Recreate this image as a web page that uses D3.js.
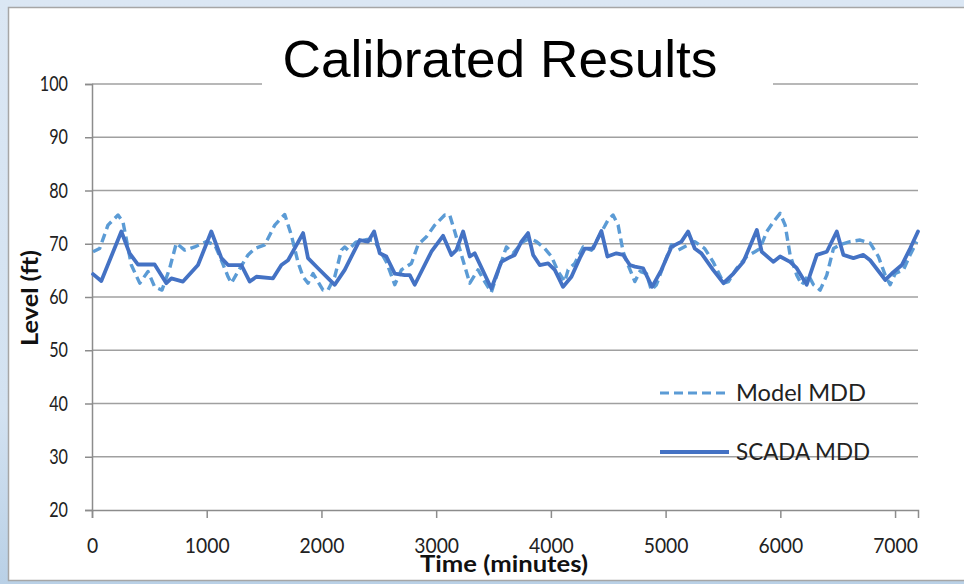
<!DOCTYPE html>
<html>
<head>
<meta charset="utf-8">
<script src="https://cdn.jsdelivr.net/npm/d3@7/dist/d3.min.js"></script>
<style>
  html, body { margin: 0; padding: 0; background: #dce8f4; }
  svg { display: block; }
</style>
</head>
<body>
<svg id="chart" width="964" height="584"></svg>
<script>
// Time axis (minutes) and level axis (ft)
const xTicks = [0, 1000, 2000, 3000, 4000, 5000, 6000, 7000];
const yTicks = [20, 30, 40, 50, 60, 70, 80, 90, 100];

// Model MDD series
const modelTime = [9, 67, 139, 227, 270, 343, 416, 488, 546, 610, 677, 735, 808, 895, 997, 1070, 1128, 1186, 1215,
  1273, 1360, 1418, 1506, 1593, 1680, 1738, 1796, 1840, 1883, 1927, 2014, 2057, 2116, 2174, 2203, 2232, 2300, 2400,
  2460, 2508, 2566, 2639, 2697, 2784, 2842, 2915, 2988, 3075, 3118, 3162, 3220, 3293, 3365, 3423, 3481, 3540, 3612,
  3670, 3758, 3816, 3874, 3947, 4005, 4063, 4121, 4150, 4208, 4281, 4353, 4426, 4499, 4542, 4586, 4630, 4673, 4732,
  4775, 4833, 4876, 4920, 4993, 5051, 5109, 5196, 5254, 5341, 5414, 5472, 5504, 5548, 5620, 5707, 5779, 5823, 5882,
  5940, 5998, 6042, 6085, 6143, 6187, 6245, 6289, 6347, 6405, 6463, 6521, 6608, 6695, 6783, 6855, 6914, 6957, 7001,
  7073, 7131, 7189];
const modelLevel = [68.5, 69.1, 73.5, 75.4, 74.1, 66.0, 62.6, 64.8, 61.9, 61.3, 65.4, 70.1, 68.8, 69.4, 70.4, 69.8, 66.9, 63.8, 62.6,
  64.8, 67.9, 69.1, 69.8, 73.5, 75.5, 71.6, 66.5, 63.8, 62.6, 64.4, 61.3, 61.3, 63.8, 68.8, 69.4, 68.8, 70.3, 70.8,
  70.6, 68.8, 66.6, 62.3, 65.1, 66.3, 69.8, 71.3, 73.5, 75.4, 75.4, 72.3, 67.9, 62.6, 65.1, 62.9, 60.9, 64.8, 69.4,
  68.2, 70.4, 71.0, 70.4, 69.1, 67.6, 64.8, 62.9, 65.1, 66.3, 69.4, 68.8, 71.6, 74.5, 75.4, 73.5, 68.5, 66.0, 62.9,
  64.8, 64.4, 61.3, 62.3, 66.6, 69.8, 68.8, 69.8, 70.4, 69.1, 66.6, 64.1, 62.6, 62.9, 65.4, 67.6, 68.5, 69.1, 72.3,
  74.1, 75.7, 73.5, 67.9, 64.1, 62.3, 64.1, 62.3, 61.3, 64.1, 69.1, 69.8, 70.4, 70.7, 70.1, 67.6, 64.1, 62.3, 64.4,
  65.1, 67.9, 70.4];

// SCADA MDD series
const scadaTime = [9, 81, 256, 328, 401, 546, 648, 692, 793, 924, 1040, 1128, 1186, 1302, 1375, 1433, 1578, 1651, 1709,
  1840, 1883, 1970, 2072, 2116, 2203, 2334, 2406, 2459, 2508, 2566, 2639, 2726, 2770, 2813, 2958, 3060, 3133, 3176,
  3235, 3293, 3336, 3481, 3568, 3627, 3685, 3743, 3801, 3845, 3903, 3976, 4034, 4106, 4179, 4252, 4295, 4368, 4440,
  4493, 4571, 4630, 4688, 4732, 4804, 4882, 4964, 5051, 5138, 5196, 5254, 5312, 5414, 5504, 5591, 5678, 5795, 5838,
  5940, 5998, 6085, 6143, 6230, 6318, 6405, 6492, 6550, 6637, 6724, 6783, 6914, 6972, 7059, 7131, 7200];
const scadaLevel = [64.3, 63.0, 72.3, 68.2, 66.1, 66.1, 62.6, 63.5, 62.9, 66.0, 72.3, 67.3, 66.0, 66.0, 62.9, 63.8, 63.5, 66.0, 66.9,
  72.0, 67.3, 65.4, 63.2, 62.3, 65.1, 70.7, 70.4, 72.3, 68.2, 67.6, 64.4, 64.1, 64.1, 62.3, 68.5, 71.5, 67.9, 68.8,
  72.3, 67.6, 68.2, 61.6, 66.6, 67.3, 67.9, 70.4, 72.0, 67.9, 66.0, 66.3, 65.1, 61.9, 63.8, 67.3, 69.1, 69.1, 72.4,
  67.6, 68.2, 67.9, 66.0, 65.7, 65.4, 61.9, 65.1, 69.4, 70.4, 72.3, 69.1, 68.2, 65.1, 62.6, 64.4, 66.6, 72.6, 68.5,
  66.6, 67.6, 66.6, 65.4, 62.3, 67.9, 68.5, 72.3, 67.9, 67.3, 67.9, 66.9, 63.2, 64.4, 66.0, 69.1, 72.3];

const seriesNames = ["Model MDD", "SCADA MDD"];

const svg = d3.select("#chart");
const W = 964, H = 584;

// slide backdrop and chart panel
const defs = svg.append("defs");
const grad = defs.append("linearGradient").attr("id", "edge").attr("x1", 0).attr("y1", 0).attr("x2", 0).attr("y2", 1);
grad.append("stop").attr("offset", "0%").attr("stop-color", "#dbe7f4");
grad.append("stop").attr("offset", "70%").attr("stop-color", "#d3e2f1");
grad.append("stop").attr("offset", "100%").attr("stop-color", "#b9d0e6");
svg.append("rect").attr("width", W).attr("height", H).attr("fill", "url(#edge)");
svg.append("rect").attr("x", 8.5).attr("y", 7.5).attr("width", W).attr("height", 573)
  .attr("fill", "#ffffff").attr("stroke", "#a6a6a6").attr("stroke-width", 1.5);

const x = d3.scaleLinear().domain([0, 7200]).range([92, 918]);
const y = d3.scaleLinear().domain([20, 100]).range([510, 84]);

const tickFont = "Lato, 'Open Sans', sans-serif";

// horizontal gridlines
svg.append("g").selectAll("line").data(yTicks.filter(v => v > 20)).join("line")
  .attr("x1", 92).attr("x2", 918)
  .attr("y1", d => y(d)).attr("y2", d => y(d))
  .attr("stroke", "#a0a0a0").attr("stroke-width", 1.5);

// y axis
const yAxis = svg.append("g").attr("transform", "translate(92,0)")
  .call(d3.axisLeft(y).tickValues(yTicks).tickSize(7).tickPadding(17));
yAxis.select(".domain").attr("stroke", "#8c8c8c").attr("stroke-width", 1.5);
yAxis.selectAll(".tick line").attr("stroke", "#8c8c8c").attr("stroke-width", 1.5);
yAxis.selectAll(".tick text").attr("font-family", tickFont).attr("font-size", 21).attr("fill", "#222")
  .attr("textLength", d => String(d).length * 9.4).attr("lengthAdjust", "spacingAndGlyphs");

// x axis
const xAxis = svg.append("g").attr("transform", "translate(0,510)")
  .call(d3.axisBottom(x).tickValues(xTicks).tickFormat(d3.format("d")).tickSize(8).tickPadding(20));
xAxis.select(".domain").attr("stroke", "#8c8c8c").attr("stroke-width", 1.5);
xAxis.selectAll(".tick line").attr("stroke", "#8c8c8c").attr("stroke-width", 1.5);
xAxis.selectAll(".tick text").attr("font-family", tickFont).attr("font-size", 21).attr("fill", "#222")
  .attr("textLength", d => String(d).length * 11.2).attr("lengthAdjust", "spacingAndGlyphs");

// axis titles
svg.append("text").attr("x", 504).attr("y", 572).attr("text-anchor", "middle")
  .attr("font-family", tickFont).attr("font-weight", "bold").attr("font-size", 23).attr("fill", "#111")
  .attr("textLength", 168).attr("lengthAdjust", "spacingAndGlyphs")
  .text("Time (minutes)");
svg.append("text").attr("transform", "translate(38,298) rotate(-90)").attr("text-anchor", "middle")
  .attr("font-family", tickFont).attr("font-weight", "bold").attr("font-size", 23).attr("fill", "#111")
  .attr("textLength", 96).attr("lengthAdjust", "spacingAndGlyphs")
  .text("Level (ft)");

// series lines
const line = d3.line().x(d => x(d[0])).y(d => y(d[1]));
const modelPts = modelTime.map((t, i) => [t, modelLevel[i]]);
const scadaPts = scadaTime.map((t, i) => [t, scadaLevel[i]]);

svg.append("path").datum(modelPts).attr("d", line).attr("fill", "none")
  .attr("stroke", "#5b9bd5").attr("stroke-width", 3.4).attr("stroke-dasharray", "9,5")
  .attr("stroke-linejoin", "round");
svg.append("path").datum(scadaPts).attr("d", line).attr("fill", "none")
  .attr("stroke", "#4472c4").attr("stroke-width", 3.8).attr("stroke-linejoin", "round").attr("stroke-linecap", "round");

// title with a white backing that breaks the top gridline
svg.append("rect").attr("x", 262).attr("y", 30).attr("width", 511).attr("height", 62).attr("fill", "#ffffff");
svg.append("text").attr("x", 500).attr("y", 77).attr("text-anchor", "middle")
  .attr("font-family", "'Liberation Sans', Arial, sans-serif").attr("font-size", 52).attr("fill", "#000")
  .attr("textLength", 435).attr("lengthAdjust", "spacingAndGlyphs")
  .text("Calibrated Results");

// legend
const legend = svg.append("g");
const legendRows = [
  { name: seriesNames[0], color: "#5b9bd5", dash: "9,5", w: 3.2, y: 393, len: 130 },
  { name: seriesNames[1], color: "#4472c4", dash: null, w: 3.8, y: 452, len: 134 }
];
legendRows.forEach(r => {
  legend.append("line").attr("x1", 660).attr("x2", 729).attr("y1", r.y).attr("y2", r.y)
    .attr("stroke", r.color).attr("stroke-width", r.w).attr("stroke-dasharray", r.dash);
  legend.append("text").attr("x", 736).attr("y", r.y + 8)
    .attr("font-family", tickFont).attr("font-size", 23).attr("fill", "#222")
    .attr("textLength", r.len).attr("lengthAdjust", "spacingAndGlyphs").text(r.name);
});
</script>
</body>
</html>
